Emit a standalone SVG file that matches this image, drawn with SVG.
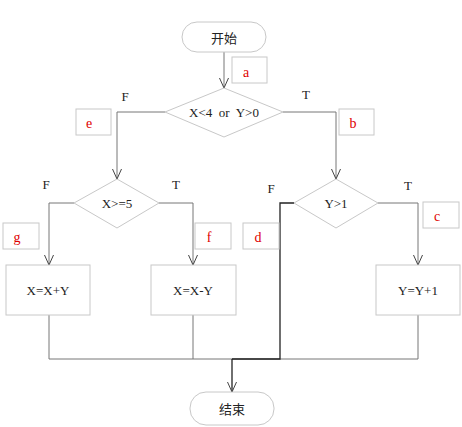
<svg xmlns="http://www.w3.org/2000/svg" width="462" height="427" viewBox="0 0 462 427">
<style>
.shape{fill:#fff;stroke:#c8c8c8;stroke-width:1}
.lbl{fill:#fff;stroke:#c8c8c8;stroke-width:1}
.t{font-family:"Liberation Serif","Noto Sans CJK SC",serif;font-size:13px;fill:#222;text-anchor:middle;dominant-baseline:central;white-space:pre}
.cjk{font-family:"Noto Sans CJK SC",serif;font-size:13px}
.red{font-family:"Liberation Serif",serif;font-size:14px;fill:#e00000;text-anchor:middle;dominant-baseline:central}
.c{fill:none;stroke:#777;stroke-width:1}
.dk{fill:none;stroke:#222;stroke-width:1.3}
</style>
<defs>
<marker id="arr" viewBox="0 0 10 10" refX="10" refY="5" markerWidth="10" markerHeight="10" markerUnits="userSpaceOnUse" orient="auto">
<path d="M0,0.5 L10,5 L0,9.5" fill="none" stroke="#444" stroke-width="1"/>
</marker>
</defs>
<rect width="462" height="427" fill="#fff"/>
<g id="connectors">
<path class="c" d="M224,52 V88" marker-end="url(#arr)"/>
<path class="c" d="M165,112 H117 V179" marker-end="url(#arr)"/>
<path class="c" d="M283,112 H336 V179" marker-end="url(#arr)"/>
<path class="c" d="M74,203 H49 V265" marker-end="url(#arr)"/>
<path class="c" d="M159,203 H193 V265" marker-end="url(#arr)"/>
<path class="c" d="M378,203 H418 V265" marker-end="url(#arr)"/>
<path class="c" d="M49,315 V359 H418 V315"/>
<path class="c" d="M193,315 V359"/>
<path class="dk" d="M294,203 H280 V359 H232"/>
<path class="dk" d="M232,359 V392" marker-end="url(#arr)"/>
</g>
<g id="start"><rect class="shape" x="182" y="22" width="84" height="30" rx="15"/><text class="t cjk" x="224" y="37">开始</text></g>
<g id="cond1"><polygon class="shape" points="224,88 283,112 224,137 165,112"/><text class="t" x="224" y="112">X&lt;4  or  Y&gt;0</text></g>
<g id="cond2"><polygon class="shape" points="117,179 159,203 117,228 74,203"/><text class="t" x="117" y="203">X&gt;=5</text></g>
<g id="cond3"><polygon class="shape" points="336,179 378,203 336,228 294,203"/><text class="t" x="336" y="203">Y&gt;1</text></g>
<g id="p1"><rect class="shape" x="6" y="265" width="84" height="50"/><text class="t" x="48" y="290">X=X+Y</text></g>
<g id="p2"><rect class="shape" x="151" y="265" width="85" height="50"/><text class="t" x="193" y="290">X=X-Y</text></g>
<g id="p3"><rect class="shape" x="376" y="265" width="84" height="50"/><text class="t" x="418" y="290">Y=Y+1</text></g>
<g id="end"><rect class="shape" x="190" y="392" width="84" height="33" rx="16"/><text class="t cjk" x="232" y="408">结束</text></g>
<g id="tf">
<text class="t" x="125" y="96">F</text>
<text class="t" x="306" y="94">T</text>
<text class="t" x="46" y="184">F</text>
<text class="t" x="176" y="184">T</text>
<text class="t" x="271" y="188">F</text>
<text class="t" x="408" y="185">T</text>
</g>
<g id="label-a"><rect class="lbl" x="232" y="57" width="35" height="26"/><text class="red" x="246" y="72">a</text></g>
<g id="label-b"><rect class="lbl" x="339" y="109" width="35" height="26"/><text class="red" x="353" y="123">b</text></g>
<g id="label-c"><rect class="lbl" x="423" y="202" width="36" height="26"/><text class="red" x="437" y="216">c</text></g>
<g id="label-d"><rect class="lbl" x="243" y="223" width="36" height="26"/><text class="red" x="258" y="237">d</text></g>
<g id="label-e"><rect class="lbl" x="76" y="109" width="35" height="26"/><text class="red" x="89" y="123">e</text></g>
<g id="label-f"><rect class="lbl" x="195" y="223" width="36" height="26"/><text class="red" x="209" y="237">f</text></g>
<g id="label-g"><rect class="lbl" x="3" y="223" width="36" height="26"/><text class="red" x="17" y="237">g</text></g>
</svg>
